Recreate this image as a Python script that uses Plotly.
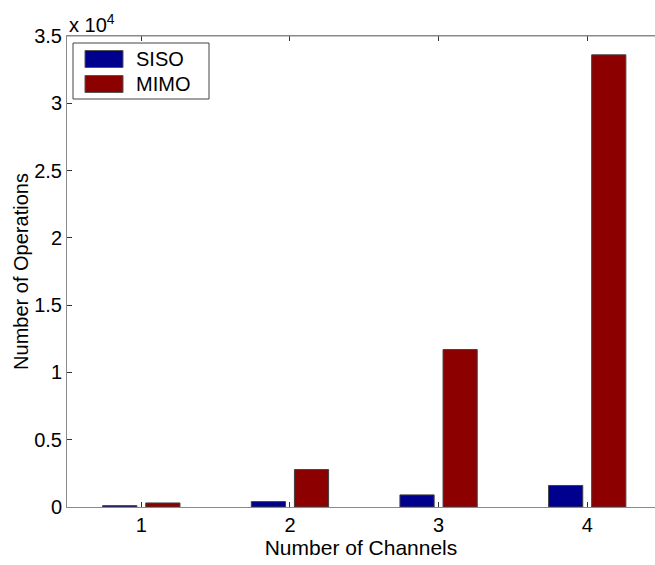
import plotly.graph_objects as go

channels = [1, 2, 3, 4]
tick_labels = ["1", "2", "3", "4"]
siso = [100, 400, 900, 1600]
mimo = [300, 2780, 11700, 33600]
y_tickvals = [0, 5000, 10000, 15000, 20000, 25000, 30000, 35000]
y_ticktext = ["0", "0.5", "1", "1.5", "2", "2.5", "3", "3.5"]

FONT = "Arial, Liberation Sans, sans-serif"
BLUE = "#00008F"
RED = "#8C0000"
AXC = "#8a8a8a"
FS = 20

fig = go.Figure()
fig.add_trace(go.Bar(x=channels, y=siso, name="SISO", width=0.23, offset=-0.26,
                     marker=dict(color=BLUE, line=dict(color="#404040", width=1)), showlegend=False))
fig.add_trace(go.Bar(x=channels, y=mimo, name="MIMO", width=0.23, offset=0.03,
                     marker=dict(color=RED, line=dict(color="#404040", width=1)), showlegend=False))

fig.update_layout(
    width=655, height=565,
    margin=dict(l=67, r=0, t=36, b=58),
    plot_bgcolor="white", paper_bgcolor="white",
    font=dict(family=FONT, size=FS, color="black"),
    xaxis=dict(range=[0.5, 4.456], tickvals=channels, ticktext=tick_labels,
               ticks="inside", ticklen=5, tickcolor="#333", mirror="ticks",
               showline=True, linecolor=AXC, linewidth=1, showgrid=False, zeroline=False,
               title=dict(text="Number of Channels", standoff=3, font=dict(size=21)),
               tickfont=dict(size=FS)),
    yaxis=dict(range=[0, 35000], tickvals=y_tickvals, ticktext=y_ticktext,
               ticks="inside", ticklen=5, tickcolor="#333",
               showline=True, linecolor=AXC, linewidth=1, showgrid=False, zeroline=False,
               title=dict(text="Number of Operations", standoff=0, font=dict(size=FS)),
               tickfont=dict(size=FS)),
)
# top frame line
fig.add_shape(type="line", xref="paper", yref="paper", x0=0, x1=1, y0=1, y1=1,
              line=dict(color=AXC, width=1))
fig.add_annotation(xref="paper", yref="paper", x=0, y=1, xanchor="left", yanchor="bottom",
                   text="x 10<sup>4</sup>", showarrow=False, font=dict(size=FS), yshift=-2)

# manual legend
pw = 655 - 67
ph = 565 - 36 - 58
def px(x):
    return (x - 67) / pw
def py(y):
    return (565 - 58 - y) / ph
fig.add_shape(type="rect", xref="paper", yref="paper", x0=px(73), x1=px(209), y0=py(99), y1=py(43),
              line=dict(color="#444", width=1), fillcolor="white")
for i, (nm, col) in enumerate([("SISO", BLUE), ("MIMO", RED)]):
    yc = 59 + i * 25
    fig.add_shape(type="rect", xref="paper", yref="paper", x0=px(85), x1=px(123),
                  y0=py(yc + 8.5), y1=py(yc - 8.5), line=dict(color="#555", width=1), fillcolor=col)
    fig.add_annotation(xref="paper", yref="paper", x=px(134), y=py(yc), xanchor="left", yanchor="middle",
                       text=nm, showarrow=False, font=dict(size=FS))

fig.write_html("out.html")
